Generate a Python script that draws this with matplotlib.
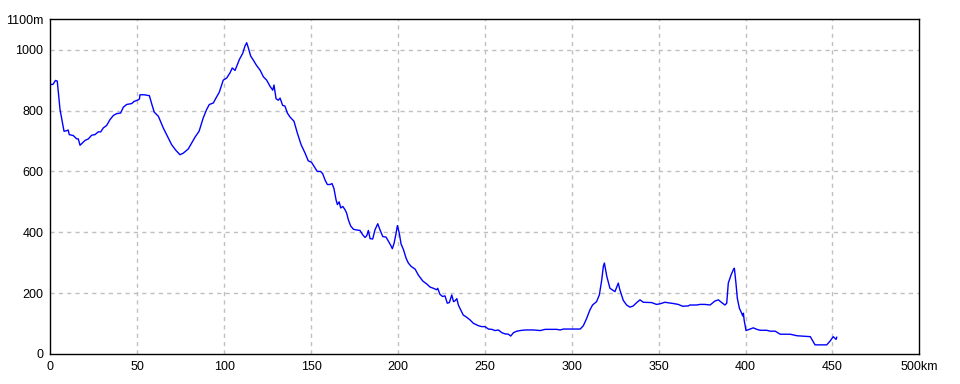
import matplotlib
matplotlib.use("Agg")
import matplotlib.pyplot as plt

plt.rcParams['font.family'] = ['Liberation Sans Narrow', 'Liberation Sans', 'DejaVu Sans']

dist_km = [0, 1.5, 3, 4, 5.6, 7.9, 9.4, 10.3, 10.9, 13.2, 15.2, 16.1, 17.1, 18, 20, 21.9, 23.8,
           25.7, 27.6, 29, 30.5, 32.4, 34.3, 36.3, 38.2, 40.5, 42, 43.9, 46.8, 48.2, 50.1, 51.3,
           51.6, 53.9, 57, 58.3, 59.8, 62.2, 65, 67.9, 69.8, 72.3, 74.6, 76.5, 79.4, 81.4, 83.3,
           85.6, 88, 89.9, 91.5, 93.8, 95.3, 97.2, 99.5, 101.5, 103.4, 104.7, 106.3, 107.6, 108.8,
           110.7, 112, 113, 113.9, 115.3, 116.8, 118.7, 120.7, 122.6, 124.5, 126.4, 128, 128.7,
           129.9, 131.2, 132.2, 133.7, 135, 136.4, 137.9, 140.2, 142.1, 144.3, 146.6, 148.4,
           150.3, 151.7, 153.6, 155.5, 156.7, 158, 159.4, 160.9, 162.1, 163.2, 164.4, 165.2,
           166.2, 167.1, 168.3, 169.6, 170.5, 171.5, 172.8, 174.4, 175.9, 178.2, 179.7, 181.1,
           182.1, 183, 184, 185.5, 186.8, 188.4, 189.7, 191.3, 193.2, 194.6, 195.9, 196.8, 197.8,
           198.9, 199.7, 200.8, 201.8, 203.2, 204.7, 206, 207.6, 209.9, 211.7, 214.3, 216.6,
           218.5, 220.4, 222.3, 222.9, 224.2, 225.7, 227.1, 228.4, 229.6, 231, 232, 232.9, 233.9,
           234.8, 235.7, 237.6, 239.5, 241.5, 243.4, 246.3, 248.2, 250.1, 252.1, 254, 255.9,
           257.8, 259.8, 261.7, 263.6, 264.9, 266.5, 268.4, 270.3, 273.2, 278, 281.9, 284.7,
           291.4, 293.3, 295.3, 304.9, 306.7, 308.6, 310.5, 312, 314.3, 315.9, 317.3, 318.2,
           318.8, 320.2, 322, 324.9, 326.8, 327.7, 329.7, 331.6, 333.5, 335.4, 337.4, 339.3,
           341.2, 346, 348.8, 350.8, 353.6, 358.4, 361.3, 363.8, 367.1, 368, 371.9, 373.8,
           376.7, 379.6, 382.4, 384.4, 386.3, 388.2, 389.2, 390.1, 391.7, 393, 393.6, 394.5,
           395.3, 396.5, 397.8, 398.4, 398.8, 399.2, 400.3, 402.6, 404.5, 406.5, 408.4, 412.2,
           414.2, 417.1, 420, 425.7, 429.6, 437.3, 440, 443.8, 446.7, 448.6, 450.5, 452.1, 452.5]

elev_m = [886, 886, 899, 897, 803, 732, 734, 736, 721, 718, 707, 707, 686, 691, 702, 707, 719,
          721, 730, 730, 743, 751, 770, 784, 790, 792, 811, 820, 823, 830, 834, 838,
          852, 852, 849, 823, 795, 781, 743, 710, 688, 669, 655, 660, 674, 694, 713,
          732, 776, 803, 820, 825, 841, 860, 900, 907, 924, 940, 932, 951, 968,
          988, 1012, 1023, 1007, 979, 966, 948, 933, 911, 900, 880, 867, 884,
          839, 834, 841, 817, 815, 792, 779, 765, 727, 688, 660, 635,
          630, 617, 600, 600, 593, 573, 557, 557, 560, 544, 507, 491,
          500, 480, 485, 474, 463, 441, 421, 410, 408, 406, 392, 383,
          389, 406, 379, 378, 408, 428, 408, 386, 384, 370, 357, 346, 364,
          395, 422, 397, 362, 343, 315, 299, 288, 279, 260, 240, 230,
          220, 216, 211, 216, 196, 189, 191, 167, 169, 194, 172, 175, 182,
          161, 150, 128, 121, 112, 101, 93, 90, 90, 82, 81, 77,
          79, 70, 66, 65, 59, 70, 75, 77, 79, 79, 77, 81,
          81, 79, 82, 82, 93, 117, 145, 161, 172, 194, 244, 288,
          299, 255, 216, 205, 233, 211, 176, 161, 154, 158, 169, 178,
          170, 169, 163, 165, 170, 166, 163, 157, 158, 161, 161, 163,
          163, 161, 174, 178, 169, 161, 167, 233, 260, 277, 282, 233,
          183, 150, 134, 125, 134, 112, 77, 82, 86, 81, 78, 78,
          75, 75, 65, 65, 60, 57, 30, 30, 30, 42, 57, 48, 55]

x_ticks = [0, 50, 100, 150, 200, 250, 300, 350, 400, 450, 500]
x_labels = ['0', '50', '100', '150', '200', '250', '300', '350', '400', '450', '500km']
y_ticks = [0, 200, 400, 600, 800, 1000, 1100]
y_labels = ['0', '200', '400', '600', '800', '1000', '1100m']

fig = plt.figure(figsize=(9.6, 3.84), dpi=100)
ax = fig.add_axes([50.3 / 960, 30 / 384, (919.3 - 50.3) / 960, (354 - 19.3) / 384])
ax.plot(dist_km, elev_m, color='#0000ff', linewidth=1.0)
ax.set_xlim(0, 500)
ax.set_ylim(0, 1100)
ax.set_xticks(x_ticks)
ax.set_xticklabels(x_labels)
ax.set_yticks(y_ticks)
ax.set_yticklabels(y_labels)
ax.tick_params(length=0, labelsize=9, pad=5, colors='black')
for v in x_ticks[1:-1]:
    ax.axvline(v, color='#c0c0c0', linestyle=(0, (3, 3)), linewidth=1.0, zorder=0)
for v in y_ticks[1:-1]:
    ax.axhline(v, color='#c0c0c0', linestyle=(0, (3, 3)), linewidth=1.0, zorder=0)
for s in ax.spines.values():
    s.set_linewidth(1.0)
    s.set_color('black')
fig.savefig('out.png', dpi=100)
